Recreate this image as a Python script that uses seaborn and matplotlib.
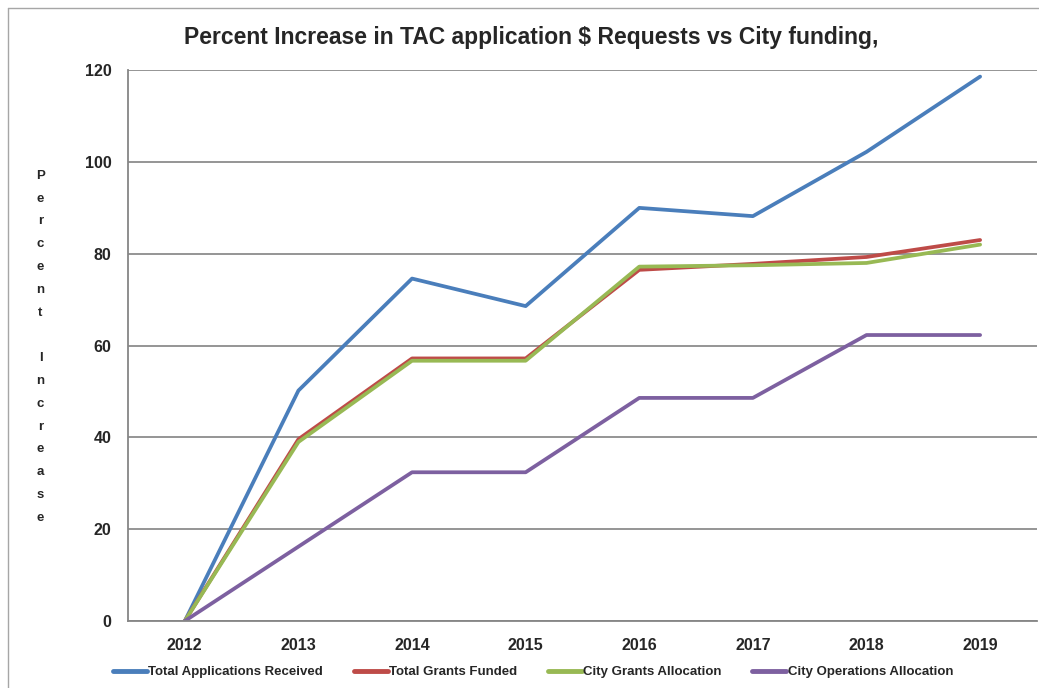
import matplotlib
matplotlib.use('Agg')
import matplotlib.pyplot as plt
from matplotlib.lines import Line2D
from matplotlib.ticker import FixedLocator, NullFormatter
import numpy as np
import pandas as pd
import seaborn as sns

years = ['2012', '2013', '2014', '2015', '2016', '2017', '2018', '2019']
applications = [0, 50.2, 74.6, 68.6, 90.0, 88.2, 102.2, 118.6]
grants_funded = [0, 39.6, 57.2, 57.2, 76.5, 77.8, 79.3, 83.0]
city_grants = [0, 39.0, 56.7, 56.7, 77.2, 77.5, 78.0, 82.0]
city_operations = [0, 16.2, 32.4, 32.4, 48.6, 48.6, 62.3, 62.3]

series_names = ['Total Applications Received', 'Total Grants Funded',
                'City Grants Allocation', 'City Operations Allocation']
colors = ['#4a7ebb', '#be4b48', '#98b954', '#7d60a0']

sns.set_style('white')
plt.rcParams['font.family'] = ['Liberation Sans', 'DejaVu Sans']

df = pd.DataFrame({
    'year_idx': np.tile(np.arange(len(years)), 4),
    'value': applications + grants_funded + city_grants + city_operations,
    'series': np.repeat(series_names, len(years)),
})

fig = plt.figure(figsize=(10.39, 6.88), dpi=100)
ax = fig.add_axes([0.1232, 0.0974, 0.8748, 0.8006])

sns.lineplot(data=df, x='year_idx', y='value', hue='series', hue_order=series_names,
             palette=colors, linewidth=2.7, ax=ax, legend=False)

ax.set_xlim(-0.5, len(years) - 0.5)
ax.set_ylim(0, 120)
ax.set_yticks(np.arange(0, 121, 20))
ax.set_yticklabels([str(v) for v in range(0, 121, 20)], fontweight='bold', fontsize=11.5)
ax.set_xticks(np.arange(len(years)))
ax.set_xticklabels(years, fontweight='bold', fontsize=11.5)
ax.xaxis.set_minor_locator(FixedLocator(np.arange(-0.5, len(years), 1.0)))
ax.xaxis.set_minor_formatter(NullFormatter())
ax.tick_params(axis='x', which='major', length=0, pad=12)
ax.tick_params(axis='x', which='minor', length=6, color='#868686', width=1.2, direction='out')
ax.tick_params(axis='y', length=6, color='#868686', width=1.2, direction='out', pad=6)
ax.grid(axis='y', color='#8c8c8c', linewidth=1.3)
ax.set_axisbelow(True)
for side in ['top', 'right']:
    ax.spines[side].set_visible(False)
for side in ['left', 'bottom']:
    ax.spines[side].set_color('#868686')
    ax.spines[side].set_linewidth(1.3)
ax.set_xlabel('')
ax.set_ylabel('')

fig.text(0.511, 0.946, 'Percent Increase in TAC application $ Requests vs City funding,',
         ha='center', va='center', fontsize=16.5, fontweight='bold')

ylabel = '\n'.join(list('Percent') + [''] + list('Increase'))
fig.text(0.039, 0.496, ylabel, ha='center', va='center', fontsize=9.5,
         fontweight='bold', linespacing=2.2)

handles = [Line2D([], [], color=c, linewidth=3.5) for c in colors]
fig.legend(handles, series_names, loc='center', bbox_to_anchor=(0.513, 0.023), ncol=4,
           frameon=False, handlelength=2.6, handletextpad=0.1, columnspacing=2.3,
           prop={'weight': 'bold', 'size': 9.5})

# outer chart frame
fig.add_artist(Line2D([8 / 1039, 8 / 1039], [0, 1 - 8 / 688], color='#a6a6a6', linewidth=1))
fig.add_artist(Line2D([8 / 1039, 1], [1 - 8 / 688, 1 - 8 / 688], color='#a6a6a6', linewidth=1))

fig.savefig('out.png', dpi=100)
